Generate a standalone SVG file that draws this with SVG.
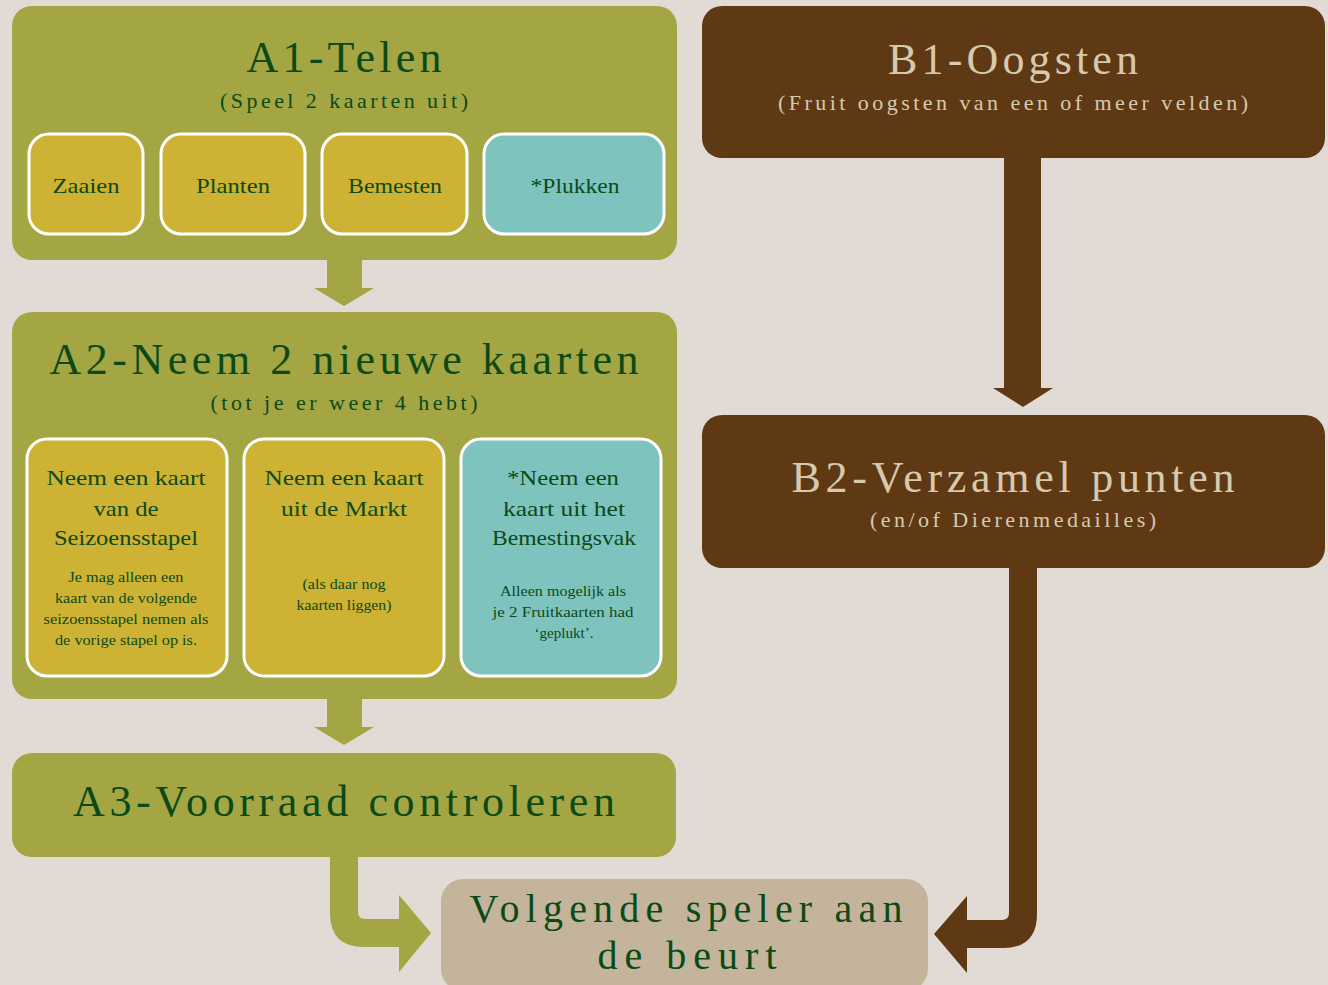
<svg xmlns="http://www.w3.org/2000/svg" width="1328" height="985" viewBox="0 0 1328 985">
<style>
text{font-family:"Liberation Serif","DejaVu Serif",serif;text-anchor:middle}
.g{fill:#a3a643}
.y{fill:#ceb234;stroke:#fff;stroke-width:3}
.t{fill:#7fc3be;stroke:#fff;stroke-width:3}
.b{fill:#5e3914}
.dk{fill:#0b4a17}
.lt{fill:#d8c9ae}
.h{font-size:44px}
.v{font-size:40px}
.s{font-size:22px}
.c{font-size:22px}
.m{font-size:15px}
</style>
<rect width="1328" height="985" fill="#e2dad4"/>
<g id="connectors">
<path class="g" d="M327,260H362V288H374L344,306L314,288H327Z"/>
<path class="g" d="M327,699H362V727H374L344,745L314,727H327Z"/>
<path class="b" d="M1004,158H1041V388H1053L1023,407L993,388H1004Z"/>
<path class="g" d="M330,857H358V912Q358,919 365,919H399V895L431,933L399,972V947H364Q330,947 330,913Z"/>
<path class="b" d="M1009,568H1037V914Q1037,948 1003,948H967V973L934,934L967,896V920H1002Q1009,920 1009,913Z"/>
</g>
<g id="A1">
<rect class="g" x="12" y="6" width="665" height="254" rx="20"/>
<text class="dk h" x="344" y="72" textLength="195" lengthAdjust="spacing">A1-Telen</text>
<text class="dk s" x="344" y="108" textLength="248" lengthAdjust="spacing">(Speel 2 kaarten uit)</text>
</g>
<g id="A1-zaaien"><rect class="y" x="29" y="134" width="114" height="100" rx="20"/><text class="dk c" x="86" y="193" textLength="67" lengthAdjust="spacingAndGlyphs">Zaaien</text></g>
<g id="A1-planten"><rect class="y" x="161" y="134" width="144" height="100" rx="20"/><text class="dk c" x="233" y="193" textLength="74" lengthAdjust="spacingAndGlyphs">Planten</text></g>
<g id="A1-bemesten"><rect class="y" x="322" y="134" width="145" height="100" rx="20"/><text class="dk c" x="395" y="193" textLength="94" lengthAdjust="spacingAndGlyphs">Bemesten</text></g>
<g id="A1-plukken"><rect class="t" x="484" y="134" width="180" height="100" rx="20"/><text class="dk c" x="575" y="193" textLength="89" lengthAdjust="spacingAndGlyphs">*Plukken</text></g>
<g id="A2">
<rect class="g" x="12" y="312" width="665" height="387" rx="20"/>
<text class="dk h" x="344" y="374" textLength="589" lengthAdjust="spacing">A2-Neem 2 nieuwe kaarten</text>
<text class="dk s" x="344" y="410" textLength="267" lengthAdjust="spacing">(tot je er weer 4 hebt)</text>
</g>
<g id="A2-seizoen">
<rect class="y" x="27" y="439" width="200" height="237" rx="20"/>
<text class="dk c" x="126" y="485" textLength="159" lengthAdjust="spacingAndGlyphs">Neem een kaart</text>
<text class="dk c" x="126" y="516" textLength="65" lengthAdjust="spacingAndGlyphs">van de</text>
<text class="dk c" x="126" y="545" textLength="144" lengthAdjust="spacingAndGlyphs">Seizoensstapel</text>
<text class="dk m" x="126" y="582" textLength="115" lengthAdjust="spacingAndGlyphs">Je mag alleen een</text>
<text class="dk m" x="126" y="603" textLength="142" lengthAdjust="spacingAndGlyphs">kaart van de volgende</text>
<text class="dk m" x="126" y="624" textLength="165" lengthAdjust="spacingAndGlyphs">seizoensstapel nemen als</text>
<text class="dk m" x="126" y="645" textLength="142" lengthAdjust="spacingAndGlyphs">de vorige stapel op is.</text>
</g>
<g id="A2-markt">
<rect class="y" x="244" y="439" width="200" height="237" rx="20"/>
<text class="dk c" x="344" y="485" textLength="159" lengthAdjust="spacingAndGlyphs">Neem een kaart</text>
<text class="dk c" x="344" y="516" textLength="126" lengthAdjust="spacingAndGlyphs">uit de Markt</text>
<text class="dk m" x="344" y="589" textLength="83" lengthAdjust="spacingAndGlyphs">(als daar nog</text>
<text class="dk m" x="344" y="610" textLength="95" lengthAdjust="spacingAndGlyphs">kaarten liggen)</text>
</g>
<g id="A2-bemestingsvak">
<rect class="t" x="461" y="439" width="200" height="237" rx="20"/>
<text class="dk c" x="563" y="485" textLength="112" lengthAdjust="spacingAndGlyphs">*Neem een</text>
<text class="dk c" x="564" y="516" textLength="122" lengthAdjust="spacingAndGlyphs">kaart uit het</text>
<text class="dk c" x="564" y="545" textLength="144" lengthAdjust="spacingAndGlyphs">Bemestingsvak</text>
<text class="dk m" x="563" y="596" textLength="126" lengthAdjust="spacingAndGlyphs">Alleen mogelijk als</text>
<text class="dk m" x="563" y="617" textLength="141" lengthAdjust="spacingAndGlyphs">je 2 Fruitkaarten had</text>
<text class="dk m" x="564" y="638" textLength="59" lengthAdjust="spacingAndGlyphs">‘geplukt’.</text>
</g>
<g id="A3">
<rect class="g" x="12" y="753" width="664" height="104" rx="20"/>
<text class="dk h" x="344" y="816" textLength="542" lengthAdjust="spacing">A3-Voorraad controleren</text>
</g>
<g id="volgende">
<rect x="441" y="879" width="487" height="112" rx="22" fill="#c4b49b"/>
<text class="dk v" x="686" y="922" textLength="433" lengthAdjust="spacing">Volgende speler aan</text>
<text class="dk v" x="687" y="969" textLength="179" lengthAdjust="spacing">de beurt</text>
</g>
<g id="B1">
<rect class="b" x="702" y="6" width="623" height="152" rx="20"/>
<text class="lt h" x="1013" y="74" textLength="250" lengthAdjust="spacing">B1-Oogsten</text>
<text class="lt s" x="1013" y="110" textLength="470" lengthAdjust="spacing">(Fruit oogsten van een of meer velden)</text>
</g>
<g id="B2">
<rect class="b" x="702" y="415" width="623" height="153" rx="20"/>
<text class="lt h" x="1013" y="492" textLength="443" lengthAdjust="spacing">B2-Verzamel punten</text>
<text class="lt s" x="1013" y="527" textLength="286" lengthAdjust="spacing">(en/of Dierenmedailles)</text>
</g>
</svg>
